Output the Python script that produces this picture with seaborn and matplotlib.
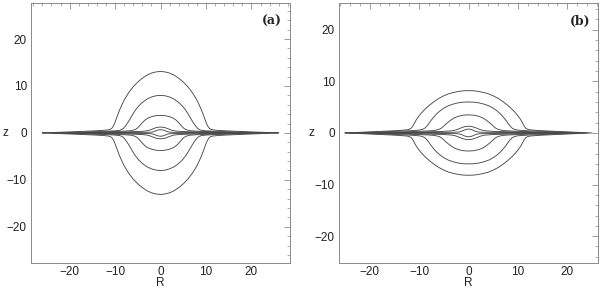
import numpy as np
import pandas as pd
import matplotlib
matplotlib.use("Agg")
import matplotlib.pyplot as plt
import seaborn as sns
from matplotlib.ticker import MultipleLocator

# ---- data: upper-half profiles (R >= 0, z) of each contour
# panel (a)
a1_R = [0, 1, 2, 3, 4, 5, 6, 7, 8, 8.5, 9.0, 9.4, 9.8, 10.1, 10.4, 10.7, 11.0, 11.5, 12.5, 14, 16, 18, 20, 22, 24, 26]
a1_z = [13.1, 13.0, 12.75, 12.3, 11.65, 10.85, 9.85, 8.6, 7.0, 6.0, 4.9, 3.9, 2.85, 2.05, 1.45, 1.02, 0.8, 0.66, 0.56, 0.47, 0.38, 0.3, 0.22, 0.15, 0.08, 0.0]
a2_R = [0, 1, 2, 3, 4, 4.8, 5.5, 6.1, 6.7, 7.2, 7.7, 8.1, 8.5, 9.0, 10, 12, 15, 18, 21, 24]
a2_z = [8.0, 7.92, 7.65, 7.2, 6.5, 5.75, 4.9, 4.0, 3.0, 2.2, 1.5, 1.03, 0.74, 0.56, 0.45, 0.36, 0.26, 0.17, 0.08, 0.0]
a3_R = [0, 1, 2, 2.8, 3.4, 3.9, 4.4, 4.8, 5.2, 5.7, 6.5, 8, 10, 13, 16, 19, 22]
a3_z = [3.75, 3.68, 3.45, 3.15, 2.75, 2.28, 1.75, 1.3, 0.93, 0.67, 0.48, 0.38, 0.3, 0.2, 0.13, 0.06, 0.0]
a4_R = [0, 0.5, 1.0, 1.5, 2.0, 2.5, 3.0, 3.8, 5, 7, 10, 13, 16, 20]
a4_z = [1.25, 1.22, 1.12, 0.95, 0.75, 0.57, 0.45, 0.36, 0.3, 0.24, 0.16, 0.1, 0.05, 0.0]
a5_R = [0, 0.4, 0.8, 1.1, 1.4, 1.8, 2.3, 3, 5, 8, 12, 15, 18]
a5_z = [0.7, 0.66, 0.55, 0.43, 0.3, 0.2, 0.15, 0.13, 0.11, 0.08, 0.05, 0.03, 0.0]

# panel (b)
b1_R = [0, 1, 2, 3, 4, 5, 6, 7, 8, 8.8, 9.5, 10.1, 10.6, 11.0, 11.3, 11.6, 12.0, 12.5, 14, 16, 18, 20, 22, 25]
b1_z = [8.2, 8.17, 8.05, 7.85, 7.6, 7.2, 6.7, 6.05, 5.3, 4.6, 3.9, 3.2, 2.5, 1.8, 1.25, 0.9, 0.7, 0.6, 0.48, 0.38, 0.29, 0.2, 0.12, 0.0]
b2_R = [0, 1, 2, 3, 4, 5, 5.8, 6.5, 7.1, 7.6, 8.0, 8.4, 8.8, 9.3, 10, 12, 15, 18, 21, 24]
b2_z = [6.0, 5.97, 5.85, 5.62, 5.3, 4.8, 4.25, 3.65, 3.0, 2.4, 1.85, 1.35, 0.95, 0.7, 0.55, 0.42, 0.3, 0.2, 0.1, 0.0]
b3_R = [0, 1, 2, 2.8, 3.5, 4.1, 4.6, 5.1, 5.5, 6.0, 6.8, 8, 10, 13, 16, 19, 22]
b3_z = [3.5, 3.45, 3.25, 2.95, 2.55, 2.1, 1.7, 1.25, 0.92, 0.68, 0.5, 0.4, 0.32, 0.22, 0.14, 0.06, 0.0]
b4_R = [0, 0.5, 1.0, 1.5, 2.0, 2.5, 3.0, 3.8, 5, 7, 10, 13, 16, 20]
b4_z = [1.3, 1.26, 1.15, 0.98, 0.78, 0.6, 0.47, 0.38, 0.31, 0.25, 0.17, 0.1, 0.05, 0.0]
b5_R = [0, 0.4, 0.8, 1.1, 1.4, 1.8, 2.3, 3, 5, 8, 12, 15, 18]
b5_z = [0.75, 0.7, 0.58, 0.45, 0.32, 0.21, 0.15, 0.13, 0.11, 0.08, 0.05, 0.03, 0.0]

panel_a = [(a1_R, a1_z), (a2_R, a2_z), (a3_R, a3_z), (a4_R, a4_z), (a5_R, a5_z)]
panel_b = [(b1_R, b1_z), (b2_R, b2_z), (b3_R, b3_z), (b4_R, b4_z), (b5_R, b5_z)]

ticks = [-20, -10, 0, 10, 20]
tick_labels = ["\u221220", "\u221210", "0", "10", "20"]


def closed_loop(R, z):
    R = np.asarray(R, float)
    z = np.asarray(z, float)
    # upper half from -Rmax to +Rmax, then lower half back
    Ru = np.concatenate([-R[::-1], R[1:]])
    zu = np.concatenate([z[::-1], z[1:]])
    Rl = Ru[::-1]
    zl = -zu[::-1]
    return np.concatenate([Ru, Rl[1:]]), np.concatenate([zu, zl[1:]])


def build_df(curves):
    rows = []
    for i, (R, z) in enumerate(curves):
        RR, ZZ = closed_loop(R, z)
        rows.append(pd.DataFrame({"R": RR, "z": ZZ, "curve": i}))
    return pd.concat(rows, ignore_index=True)


sns.set_theme(style="white")
plt.rcParams["font.family"] = ["Liberation Sans", "DejaVu Sans"]

fig = plt.figure(figsize=(6.0, 2.89), dpi=100)
ax_a = fig.add_axes([0.0517, 0.090, 0.4317, 0.900])
ax_b = fig.add_axes([0.565, 0.090, 0.4317, 0.900])

frame_col = "#8a8a8a"
line_col = "#4a4a4a"

for ax, curves, xl, yl, lab, zx in [
    (ax_a, panel_a, 28.5, 27.7, "(a)", -0.097),
    (ax_b, panel_b, 26.2, 25.2, "(b)", -0.105),
]:
    df = build_df(curves)
    sns.lineplot(data=df, x="R", y="z", units="curve", estimator=None, sort=False,
                 color=line_col, lw=0.65, ax=ax, legend=False)
    ax.set_xlim(-xl, xl)
    ax.set_ylim(-yl, yl)
    ax.set_xticks(ticks)
    ax.set_xticklabels(tick_labels)
    ax.set_yticks(ticks)
    ax.set_yticklabels(tick_labels)
    ax.xaxis.set_minor_locator(MultipleLocator(2))
    ax.yaxis.set_minor_locator(MultipleLocator(2))
    ax.tick_params(which="both", direction="in", top=True, right=True, colors=frame_col,
                   labelcolor="#222222", labelsize=8.5, pad=3)
    ax.tick_params(axis="x", which="both", pad=2)
    ax.tick_params(which="major", length=4, width=0.6)
    ax.tick_params(which="minor", length=2, width=0.5)
    for s in ax.spines.values():
        s.set_color(frame_col)
        s.set_linewidth(0.7)
    ax.set_xlabel("R", fontsize=8.5, va="bottom", color="#222222")
    ax.xaxis.set_label_coords(0.5, -0.099)
    ax.set_ylabel("z", fontsize=8.5, rotation=0, va="center", ha="center", color="#222222")
    ax.yaxis.set_label_coords(zx, 0.5)
    ax.text(0.97, 0.955, lab, transform=ax.transAxes, ha="right", va="top",
            fontsize=9, fontweight="bold", family="DejaVu Serif", color="#222222")

fig.savefig("out.png", dpi=100)
